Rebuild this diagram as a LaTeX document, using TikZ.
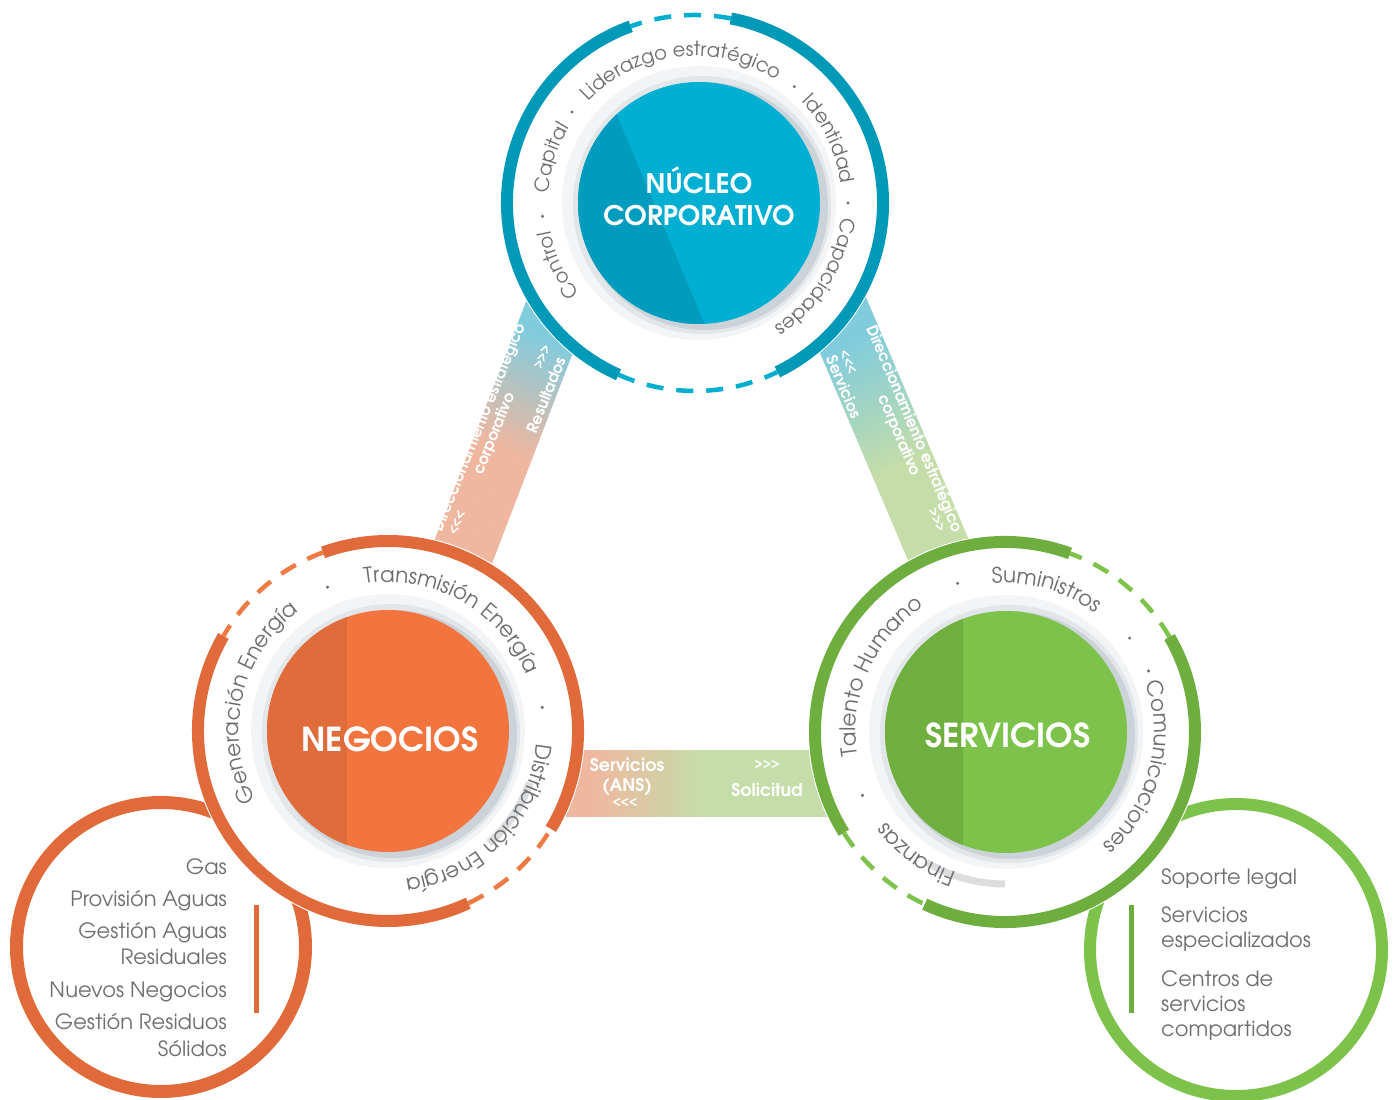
\documentclass[tikz,border=0pt]{standalone}
\usepackage{fontspec}
\setmainfont{texgyreadventor}[Extension=.otf,UprightFont=*-regular,BoldFont=*-bold]
\usetikzlibrary{decorations.text,calc}
\definecolor{tealring}{HTML}{0099B8}
\definecolor{tealdash}{HTML}{00AECF}
\definecolor{tealL}{HTML}{00AFD2}
\definecolor{tealD}{HTML}{009CBD}
\definecolor{orgring}{HTML}{E06A39}
\definecolor{orgdash}{HTML}{F07A43}
\definecolor{orgL}{HTML}{F27540}
\definecolor{orgD}{HTML}{E06C3B}
\definecolor{grnring}{HTML}{6DAE3E}
\definecolor{grnL}{HTML}{7DC24A}
\definecolor{grnD}{HTML}{6EAF3F}
\definecolor{grndash}{HTML}{7DC24A}
\definecolor{txtgray}{HTML}{6D6E71}
\definecolor{salm}{HTML}{EFB7A0}
\definecolor{blu}{HTML}{80CCDD}
\definecolor{grnlt}{HTML}{C5DDA9}
\definecolor{shL}{HTML}{F2F4F5}
\definecolor{shM}{HTML}{E2E6E9}
\definecolor{shD}{HTML}{CCD3D8}
\definecolor{grbar}{HTML}{DCDDDE}
\newcommand\rtfont{\fontsize{21.5}{22}\selectfont}
\newcommand\rtfontN{\fontsize{19.5}{22}\selectfont}
\newcommand\ringtxt[4]{%
  \path[decorate,decoration={text along path,text align=center,text={|\rtfont\color{txtgray}|#4}}]
    ([shift={(#1)}]#2+70:#3) arc[start angle=#2+70,end angle=#2-70,radius=#3];}
\newcommand\ringtxtN[4]{%
  \path[decorate,decoration={text along path,text align=center,text={|\rtfontN\color{txtgray}|#4}}]
    ([shift={(#1)}]#2+70:#3) arc[start angle=#2+70,end angle=#2-70,radius=#3];}
\newcommand\ringdot[3]{\fill[txtgray] ([shift={(#1)}]#2:#3) circle (1.7);}
\newcommand\larrs{{\fontsize{12}{12}\selectfont<\kern-0.5pt<\kern-0.5pt<}}
\newcommand\rarrs{{\fontsize{12}{12}\selectfont>\kern-0.5pt>\kern-0.5pt>}}
\begin{document}
\begin{tikzpicture}[x=1pt,y=1pt,line cap=butt,
  thickN/.style={line width=12,tealring},
  dashN/.style={line width=4.5,tealdash,dash pattern=on 17pt off 13pt},
  thickG/.style={line width=12,orgring},
  dashG/.style={line width=4.5,orgdash,dash pattern=on 17pt off 13pt},
  thickS/.style={line width=12,grnring},
  dashS/.style={line width=4.5,grndash,dash pattern=on 17pt off 13pt},
  bandtxt/.style={font=\bfseries\fontsize{15.5}{15}\selectfont,text=white,align=center,inner sep=0},
  bandtxtB/.style={font=\bfseries\fontsize{17.5}{20}\selectfont,text=white,align=center,inner sep=0},
  listtxt/.style={font=\fontsize{21}{24}\selectfont,text=txtgray,inner sep=0},
  title/.style={text=white,align=center,inner sep=0}]
\useasboundingbox (0,0) rectangle (1395,1100);
\coordinate (Nr) at (695,897);
\coordinate (Ni) at (699,897);
\coordinate (Gr) at (388,369);
\coordinate (Sr) at (1005,368);
\coordinate (Si) at (1006,368);
\coordinate (Lc) at (161,153);
\coordinate (Rc) at (1236,150);

% small circles
\draw[line width=13,orgring] (Lc) circle (144.5);
\draw[line width=12,grnL] (Rc) circle (146);

% left band
\begin{scope}[shift={(510,670)},rotate=69]
  \foreach \i in {0,...,79}{
    \pgfmathsetmacro\xa{-170+\i*4}
    \pgfmathsetmacro\p{min(100,max(0,(\xa+22)/120*100))}
    \fill[blu!\p!salm] (\xa,-31) rectangle (\xa+4.6,31);
  }
\end{scope}
% right band
\begin{scope}[shift={(887.5,670)},rotate=-67]
  \foreach \i in {0,...,84}{
    \pgfmathsetmacro\xa{-170+\i*4}
    \pgfmathsetmacro\p{min(100,max(0,(\xa+2+95)/135*100))}
    \fill[grnlt!\p!blu] (\xa,-32) rectangle (\xa+4.6,32);
  }
\end{scope}
% bottom band
\foreach \i in {0,...,79}{
  \pgfmathsetmacro\xa{540+\i*4}
  \pgfmathsetmacro\p{min(100,max(0,(\xa+2-590)/115*100))}
  \fill[grnlt!\p!salm] (\xa,283) rectangle (\xa+4.6,350);
}

% white disks
\fill[white] (Nr) circle (195);
\fill[white] (Gr) circle (197);
\fill[white] (Sr) circle (197);

% rings Nucleo
\draw[thickN] ([shift={(Nr)}]110:188) arc[start angle=110,end angle=246,radius=188];
\draw[thickN] ([shift={(Nr)}]296:188) arc[start angle=296,end angle=439,radius=188];
\draw[dashN] ([shift={(Nr)}]79:188) arc[start angle=79,end angle=110,radius=188];
\draw[dashN] ([shift={(Nr)}]246:188) arc[start angle=246,end angle=296,radius=188];
% rings Negocios
\draw[thickG] ([shift={(Gr)}]150:190) arc[start angle=150,end angle=295,radius=190];
\draw[thickG] ([shift={(Gr)}]-31:190) arc[start angle=-31,end angle=110,radius=190];
\draw[dashG] ([shift={(Gr)}]110:190) arc[start angle=110,end angle=150,radius=190];
\draw[dashG] ([shift={(Gr)}]295:190) arc[start angle=295,end angle=329,radius=190];
% rings Servicios
\draw[thickS] ([shift={(Sr)}]70:190) arc[start angle=70,end angle=212,radius=190];
\draw[thickS] ([shift={(Sr)}]245:190) arc[start angle=245,end angle=390,radius=190];
\draw[dashS] ([shift={(Sr)}]30:190) arc[start angle=30,end angle=70,radius=190];
\draw[dashS] ([shift={(Sr)}]212:190) arc[start angle=212,end angle=245,radius=190];

% shadows
\foreach \c in {Ni,Gr,Si}{
  \fill[shL] (\c) circle (137);
  \fill[shM] ($(\c)+(3,-2)$) circle (129);
  \fill[shD] ($(\c)+(5,-3)$) circle (124);
}
% inner circles
\fill[tealL] (Ni) circle (121);
\begin{scope}
  \clip (Ni) circle (121);
  \fill[tealD] (573,1090) -- (749,670) -- (500,670) -- (500,1090) -- cycle;
\end{scope}
\fill[orgL] (Gr) circle (121);
\begin{scope}
  \clip (Gr) circle (121);
  \fill[orgD] (250,230) rectangle (347,510);
\end{scope}
\fill[grnL] (Si) circle (121);
\begin{scope}
  \clip (Si) circle (121);
  \fill[grnD] (870,230) rectangle (963,510);
\end{scope}

% gray arcs
\draw[line width=8,grbar] ([shift={(Gr)}]-20:151) arc[start angle=-20,end angle=-48,radius=151];
\draw[line width=7,grbar] ([shift={(Sr)}]239:152) arc[start angle=239,end angle=270,radius=152];

% ring texts Nucleo
\ringtxtN{Nr}{204.5}{147}{Control}
\ringtxtN{Nr}{162.5}{147}{Capital}
\ringtxtN{Nr}{96.5}{147}{Liderazgo estratégico}
\ringtxtN{Nr}{25.5}{147}{Identidad}
\ringtxtN{Nr}{-31.5}{147}{Capacidades}
\ringdot{Nr}{185}{153}
\ringdot{Nr}{143.5}{153}
\ringdot{Nr}{49.5}{153}
\ringdot{Nr}{0}{153}
% ring texts Negocios
\ringtxt{Gr}{167}{149}{Generación Energía}
\ringtxt{Gr}{60.5}{149}{Transmisión Energía}
\ringtxt{Gr}{-44}{149}{Distribución Energía}
\ringdot{Gr}{112.8}{156}
\ringdot{Gr}{8.7}{156}
% ring texts Servicios
\ringtxt{Sr}{156}{149}{Talento Humano}
\ringtxt{Sr}{73.8}{149}{Suministros}
\ringtxt{Sr}{-15}{149}{Comunicaciones}
\ringtxt{Sr}{234}{149}{Finanzas}
\ringdot{Sr}{107.7}{156}
\ringdot{Sr}{37}{156}
\ringdot{Sr}{23}{156}
\ringdot{Sr}{204}{156}

% titles
\node[title,font=\bfseries\fontsize{27}{32}\selectfont] (nucT) at (699,904) {NÚCLEO\\CORPORATIVO};
\node[title,font=\bfseries\fontsize{33}{36}\selectfont] (negT) at (390,361) {NEGOCIOS};
\node[title,font=\bfseries\fontsize{33}{36}\selectfont] (serT) at (1008,365) {SERVICIOS};

% band texts left
\node[bandtxt,rotate=68] (lb1) at (486.5,669.5) {Direccionamiento estratégico\\corporativo};
\node[bandtxt,rotate=68] (lb2) at (457,577) {\larrs};
\node[bandtxt,rotate=68] (lb3) at (542,743) {\rarrs};
\node[bandtxt,rotate=68] (lb4) at (546,705) {Resultados};
% band texts right
\node[bandtxt,rotate=-67] (rb1) at (906.5,668) {Direccionamiento estratégico\\corporativo};
\node[bandtxt,rotate=-67] (rb2) at (937,580) {\rarrs};
\node[bandtxt,rotate=-67] (rb3) at (848,738) {\larrs};
\node[bandtxt,rotate=-67] (rb4) at (844,713) {Servicios};
% band texts bottom
\node[bandtxtB] (bb1) at (627,323) {Servicios\\(ANS)};
\node[bandtxtB] (bb2) at (625,297) {\larrs};
\node[bandtxtB] (bb3) at (767,335) {\rarrs};
\node[bandtxtB] (bb4) at (767,310) {Solicitud};

% left list
\node[listtxt,anchor=base east] (lt1) at (227,225) {Gas};
\node[listtxt,anchor=base east] (lt2) at (227,193) {Provisión Aguas};
\node[listtxt,anchor=base east] (lt3) at (227,161) {Gestión Aguas};
\node[listtxt,anchor=base east] (lt4) at (227,135) {Residuales};
\node[listtxt,anchor=base east] (lt5) at (227,102) {Nuevos Negocios};
\node[listtxt,anchor=base east] (lt6) at (227,70) {Gestión Residuos};
\node[listtxt,anchor=base east] (lt7) at (227,43) {Sólidos};
\fill[orgring] (253.5,87) rectangle (258.5,195);
% right list
\node[listtxt,anchor=base west] (rt1) at (1161,215) {Soporte legal};
\node[listtxt,anchor=base west] (rt2) at (1161,177) {Servicios};
\node[listtxt,anchor=base west] (rt3) at (1161,152) {especializados};
\node[listtxt,anchor=base west] (rt4) at (1161,113) {Centros de};
\node[listtxt,anchor=base west] (rt5) at (1161,88) {servicios};
\node[listtxt,anchor=base west] (rt6) at (1161,63) {compartidos};
\fill[grnring] (1128.5,87) rectangle (1133.5,195);
\end{tikzpicture}
\end{document}
